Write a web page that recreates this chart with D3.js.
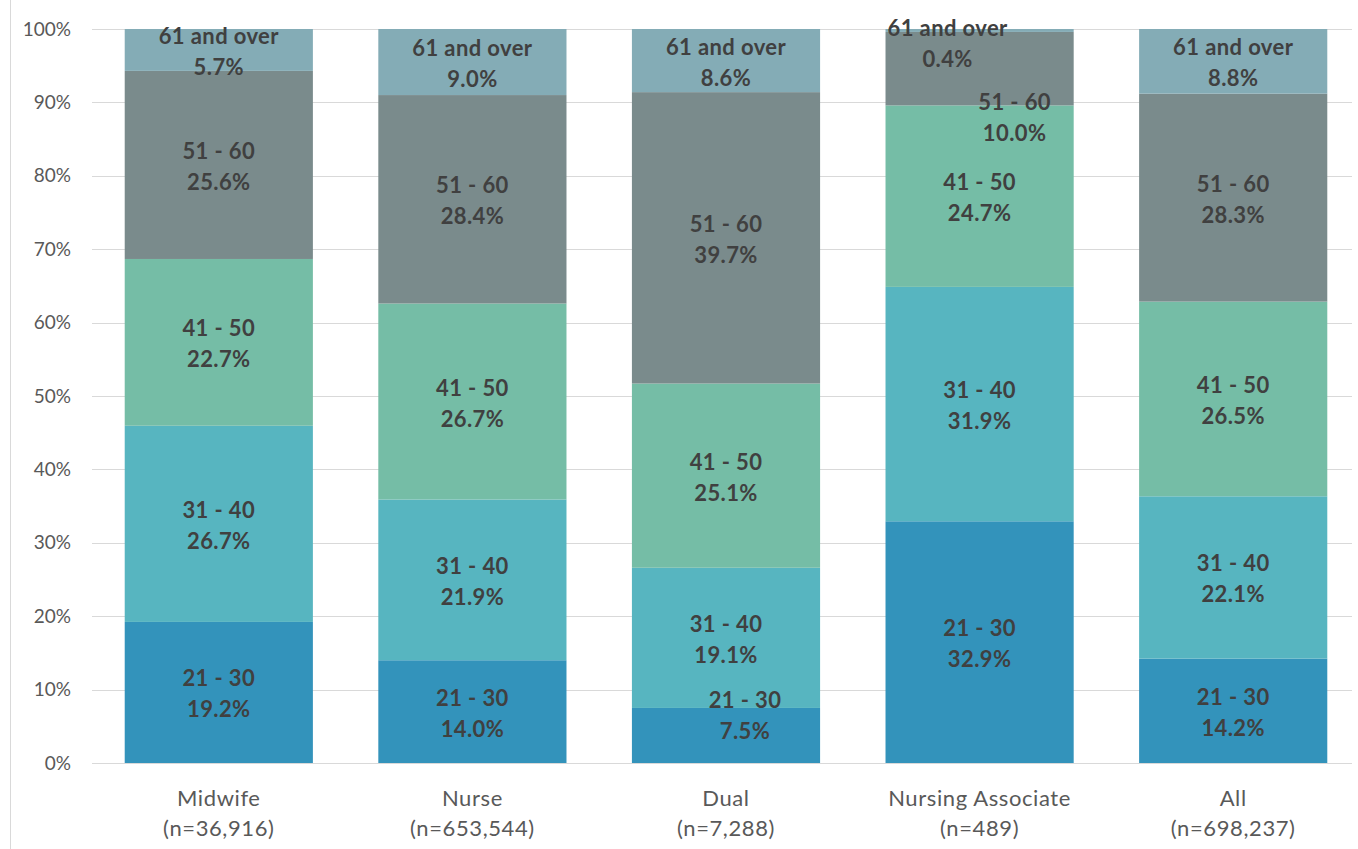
<!DOCTYPE html>
<html lang="en">
<head>
  <meta charset="UTF-8">
  <title>Age bands by register</title>
  <style>
    body { margin: 0; background: #fff; }
    svg { display: block; }
  </style>
</head>
<body>
  <script src="https://d3js.org/d3.v7.min.js"></script>
  <script>
    'use strict';

    const width = 1358;
    const height = 849;

    const categories = ['Midwife', 'Nurse', 'Dual', 'Nursing Associate', 'All'];
    const counts = ['(n=36,916)', '(n=653,544)', '(n=7,288)', '(n=489)', '(n=698,237)'];
    const bands = ['21 - 30', '31 - 40', '41 - 50', '51 - 60', '61 and over'];

    // percentage per band, one array per category (same order as bands)
    const midwife = [19.2, 26.7, 22.7, 25.6, 5.7];
    const nurse = [14.0, 21.9, 26.7, 28.4, 9.0];
    const dual = [7.5, 19.1, 25.1, 39.7, 8.6];
    const nursingAssociate = [32.9, 31.9, 24.7, 10.0, 0.4];
    const all = [14.2, 22.1, 26.5, 28.3, 8.8];

    const yTicks = [0, 10, 20, 30, 40, 50, 60, 70, 80, 90, 100];

    const colors = ['#3393bb', '#57b5c0', '#75bda6', '#7a8b8c', '#84acb6'];

    // labels that Excel nudged off centre: [category, band, dx, dy]
    const labelNudges = [
      ['Dual', '21 - 30', 19, -21],
      ['Nursing Associate', '51 - 60', 35, 47],
      ['Nursing Associate', '61 and over', -32, 12]
    ];

    const seriesByCat = [midwife, nurse, dual, nursingAssociate, all];
    const rows = categories.map((c, i) => {
      const row = { cat: c };
      bands.forEach((b, j) => { row[b] = seriesByCat[i][j]; });
      return row;
    });

    // normalise to 100% like Excel's 100% stacked column
    const stack = d3.stack().keys(bands).offset(d3.stackOffsetExpand);
    const series = stack(rows);

    const x = d3.scaleBand()
      .domain(categories)
      .range([92, 1360])
      .paddingInner(0.258)
      .paddingOuter(0.129);

    const y = d3.scaleLinear().domain([0, 1]).range([763, 29]);

    const svg = d3.select('body').append('svg')
      .attr('width', width)
      .attr('height', height);

    // faint left frame line
    svg.append('line')
      .attr('x1', 10.5).attr('x2', 10.5)
      .attr('y1', 0).attr('y2', height)
      .attr('stroke', '#d9d9d9');

    // gridlines
    svg.append('g')
      .selectAll('line')
      .data(yTicks)
      .join('line')
      .attr('x1', 92).attr('x2', 1352)
      .attr('y1', d => Math.round(y(d / 100)) + 0.5)
      .attr('y2', d => Math.round(y(d / 100)) + 0.5)
      .attr('stroke', '#d9d9d9')
      .attr('stroke-width', 1);

    const yAxis = d3.axisLeft(y)
      .tickValues(yTicks.map(d => d / 100))
      .tickFormat(d3.format('.0%'))
      .tickSize(0)
      .tickPadding(0);

    svg.append('g')
      .attr('transform', 'translate(71,0)')
      .call(yAxis)
      .call(g => g.select('.domain').remove())
      .call(g => g.selectAll('text')
        .attr('font-family', 'Lato, "Open Sans", sans-serif')
        .attr('font-size', '19px')
        .attr('fill', '#595959'));

    // bars
    const layers = svg.append('g')
      .selectAll('g')
      .data(series)
      .join('g')
      .attr('fill', (d, i) => colors[i]);

    layers.selectAll('rect')
      .data(d => d)
      .join('rect')
      .attr('x', d => x(d.data.cat))
      .attr('y', d => y(d[1]))
      .attr('width', x.bandwidth())
      .attr('height', d => y(d[0]) - y(d[1]));

    // data labels
    const labelG = svg.append('g')
      .attr('font-family', 'Lato, "Open Sans", sans-serif')
      .attr('font-weight', 'bold')
      .attr('font-size', '22px')
      .attr('letter-spacing', '0.4px')
      .attr('fill', '#404040')
      .attr('text-anchor', 'middle');

    series.forEach(s => {
      s.forEach(d => {
        const cat = d.data.cat;
        const nudge = labelNudges.find(n => n[0] === cat && n[1] === s.key);
        const dx = nudge ? nudge[2] : 0;
        const dy = nudge ? nudge[3] : 0;
        const cx = x(cat) + x.bandwidth() / 2 + dx;
        const cy = (y(d[0]) + y(d[1])) / 2 + dy;
        const t = labelG.append('text')
          .attr('x', cx)
          .attr('y', cy - 15)
          .attr('dominant-baseline', 'central');
        t.append('tspan').attr('x', cx).text(s.key);
        t.append('tspan').attr('x', cx).attr('dy', 31)
          .text(d3.format('.1f')(d.data[s.key]) + '%');
      });
    });

    // category labels
    const catG = svg.append('g')
      .attr('font-family', 'Lato, "Open Sans", sans-serif')
      .attr('font-size', '22px')
      .attr('letter-spacing', '0.6px')
      .attr('fill', '#595959')
      .attr('text-anchor', 'middle');

    categories.forEach((c, i) => {
      const cx = x(c) + x.bandwidth() / 2;
      catG.append('text').attr('x', cx).attr('y', 806).text(c);
      catG.append('text').attr('x', cx).attr('y', 836).text(counts[i]);
    });
  </script>
</body>
</html>
